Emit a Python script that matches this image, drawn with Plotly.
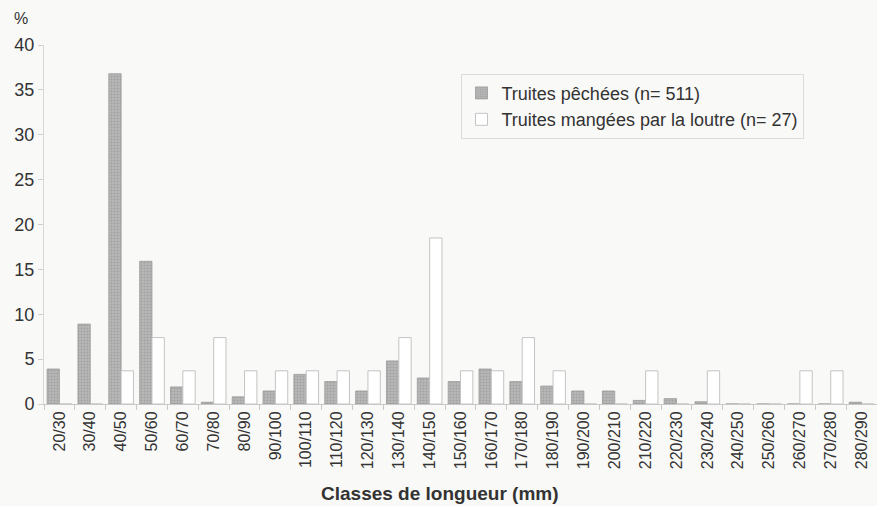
import plotly.graph_objects as go

classes = ["20/30", "30/40", "40/50", "50/60", "60/70", "70/80", "80/90", "90/100",
           "100/110", "110/120", "120/130", "130/140", "140/150", "150/160", "160/170",
           "170/180", "180/190", "190/200", "200/210", "210/220", "220/230", "230/240",
           "240/250", "250/260", "260/270", "270/280", "280/290"]

# % of trout caught by fishing (n=511)
peche = [3.9, 8.9, 36.8, 15.9, 1.9, 0.2, 0.8, 1.45, 3.3, 2.5, 1.45, 4.8, 2.9, 2.5, 3.9,
         2.5, 2.0, 1.45, 1.45, 0.4, 0.6, 0.25, 0, 0, 0, 0, 0.2]

# % of trout eaten by the otter (n=27)
loutre = [0, 0, 3.7, 7.4, 3.7, 7.4, 3.7, 3.7, 3.7, 3.7, 3.7, 7.4, 18.5, 3.7, 3.7,
          7.4, 3.7, 0, 0, 3.7, 0, 3.7, 0, 0, 3.7, 3.7, 0]

ytick_vals = [0, 5, 10, 15, 20, 25, 30, 35, 40]

txt = "#333333"
fnt = "Liberation Sans, Arial, sans-serif"

fig = go.Figure()
fig.add_trace(go.Bar(x=classes, y=peche, name="Truites pêchées (n= 511)",
                     marker=dict(color="#a9a9a9", line=dict(color="#9a9a9a", width=0.8),
                                 pattern=dict(shape=".", fgcolor="#8a8a8a", bgcolor="#b8b8b8",
                                              size=3, solidity=0.4))))
fig.add_trace(go.Bar(x=classes, y=loutre, name="Truites mangées par la loutre (n= 27)",
                     marker=dict(color="#ffffff", line=dict(color="#c4c4c4", width=1))))

fig.update_layout(
    width=877, height=506,
    margin=dict(l=44, r=0, t=45, b=102),
    paper_bgcolor="#f9f9f7", plot_bgcolor="rgba(0,0,0,0)",
    barmode="group", bargap=0.2, bargroupgap=0,
    font=dict(family=fnt, size=16, color=txt),
    showlegend=True,
    legend=dict(x=0.5, y=0.92, xanchor="left", yanchor="top",
                bgcolor="rgba(0,0,0,0)", bordercolor="#dcdcdc", borderwidth=1,
                font=dict(size=18, color=txt), tracegroupgap=0, itemwidth=30),
    annotations=[
        dict(text="%", xref="paper", yref="paper", x=-0.028, y=1.075,
             xanchor="center", yanchor="middle", showarrow=False,
             font=dict(size=16, color=txt)),
        dict(text="<b>Classes de longueur (mm)</b>", xref="paper", yref="paper",
             x=0.475, y=-0.248, xanchor="center", yanchor="middle", showarrow=False,
             font=dict(family="Liberation Sans Narrow, Arial Narrow, " + fnt, size=19, color=txt)),
    ],
)

fig.update_xaxes(type="category", tickangle=-90, ticks="outside", tickson="boundaries",
                 ticklen=5, tickcolor="#c8c8c8", showline=True, linecolor="#c8c8c8",
                 linewidth=1, showgrid=False, tickfont=dict(size=16, color=txt))
fig.update_yaxes(range=[0, 40], tickvals=ytick_vals, ticks="outside", ticklen=5,
                 tickcolor="#d0d0d0", showline=True, linecolor="#d8d8d8", linewidth=1,
                 showgrid=False, zeroline=False, tickfont=dict(size=18, color=txt))

fig.write_html("out.html", config={"displayModeBar": False},
               post_script="document.body.style.margin='0';")
